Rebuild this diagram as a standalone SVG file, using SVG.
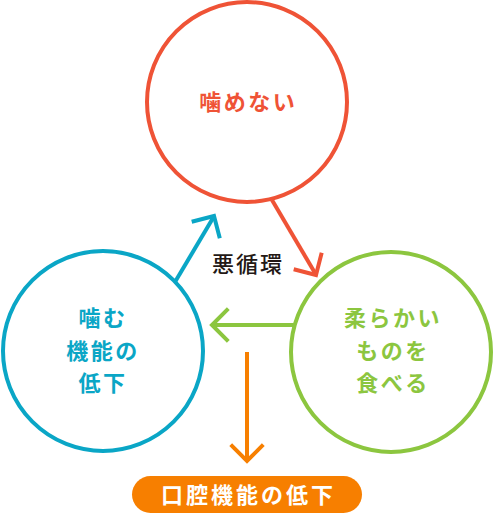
<svg xmlns="http://www.w3.org/2000/svg" width="494" height="514" viewBox="0 0 494 514">
<style>
  .ring { fill: #ffffff; stroke-width: 4; }
  .lbl { font-family: "Noto Sans CJK JP", "Noto Sans", sans-serif; font-weight: 700; font-size: 22px; letter-spacing: 2.5px; text-anchor: middle; }
  .arr { fill: none; stroke-width: 4; stroke-linecap: butt; stroke-linejoin: miter; }
  .red { stroke: #ef5336; }
  .blue { stroke: #0aa6c6; }
  .green { stroke: #8cc63f; }
  .orange { stroke: #f77f00; }
</style>
<rect width="494" height="514" fill="#ffffff"/>
<g id="connectors">
  <g id="arrow-red">
    <line class="arr red" x1="272" y1="200" x2="315" y2="273"/>
    <polyline class="arr red" points="321.7,252.7 316,275 293.7,269.3"/>
  </g>
  <g id="arrow-green">
    <line class="arr green" x1="295" y1="325" x2="214" y2="325"/>
    <polyline class="arr green" points="228.3,308.7 212,325 228.3,341.3"/>
  </g>
  <g id="arrow-blue">
    <line class="arr blue" x1="175" y1="282" x2="213" y2="218"/>
    <polyline class="arr blue" points="191.7,221.8 214,216 219.8,238.3"/>
  </g>
  <g id="arrow-orange">
    <line class="arr orange" x1="247" y1="352" x2="247" y2="459"/>
    <polyline class="arr orange" points="230.7,444.7 247,461 263.3,444.7"/>
  </g>
</g>
<g id="node-kamenai">
  <circle class="ring red" cx="247" cy="102" r="100"/>
  <text class="lbl" fill="#ef5336" x="248.25" y="110">噛めない</text>
</g>
<g id="node-kamu">
  <circle class="ring blue" cx="103" cy="351" r="100"/>
  <text class="lbl" fill="#0aa6c6" x="103" y="326">噛む</text>
  <text class="lbl" fill="#0aa6c6" x="103" y="359">機能の</text>
  <text class="lbl" fill="#0aa6c6" x="103" y="391">低下</text>
</g>
<g id="node-yawaraka">
  <circle class="ring green" cx="391" cy="352" r="100"/>
  <text class="lbl" fill="#8cc63f" x="393" y="326">柔らかい</text>
  <text class="lbl" fill="#8cc63f" x="393" y="359">ものを</text>
  <text class="lbl" fill="#8cc63f" x="393" y="391">食べる</text>
</g>
<g id="label-akujunkan">
  <text x="248" y="271.5" font-family="'Noto Sans CJK JP', 'Noto Sans', sans-serif" font-weight="500" font-size="22" letter-spacing="2" text-anchor="middle" fill="#231815">悪循環</text>
</g>
<g id="node-koukuu">
  <rect x="132" y="476" width="230" height="37" rx="18.5" fill="#f77f00"/>
  <text class="lbl" fill="#ffffff" x="248.5" y="503" style="letter-spacing:3px">口腔機能の低下</text>
</g>
</svg>
